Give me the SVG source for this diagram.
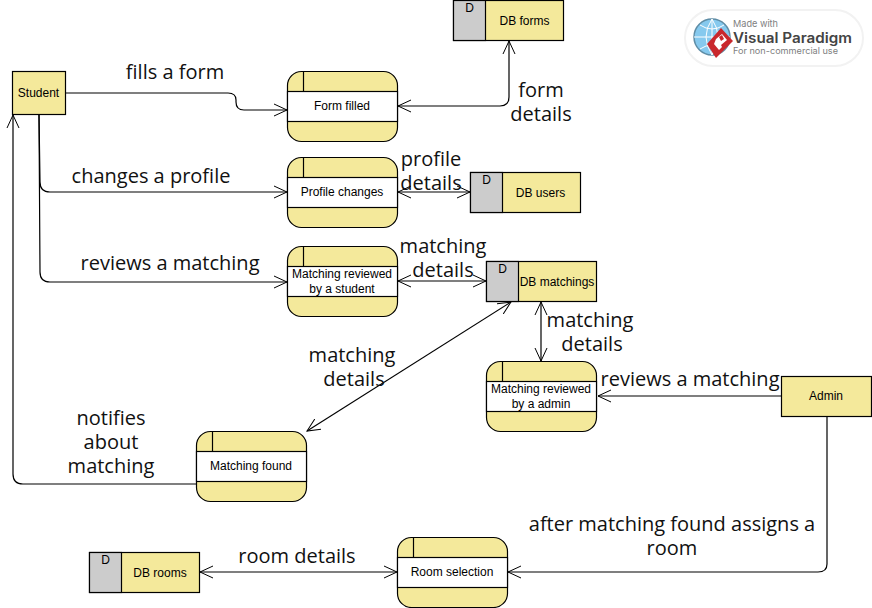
<svg xmlns="http://www.w3.org/2000/svg" width="872" height="608" viewBox="0 0 872 608">
<defs>
<style>
.n{fill:#f4e99b;stroke:#000;stroke-width:1.2}
.g{fill:#ccc;stroke:#000;stroke-width:1.2}
.w{fill:#fff;stroke:#000;stroke-width:1.2}
.l{fill:none;stroke:#000;stroke-width:1.2}
.c{fill:none;stroke:#000;stroke-width:1.2;stroke-linejoin:round}
.t{font-family:"Liberation Sans",Arial,sans-serif;font-size:12px;fill:#000;text-anchor:middle}
.b{font-family:"Open Sans","Noto Sans",sans-serif;font-size:20px;fill:#111;text-anchor:middle}
</style>
<marker id="a" viewBox="0 0 14 14" refX="13" refY="7" markerWidth="14" markerHeight="14" markerUnits="userSpaceOnUse" orient="auto-start-reverse"><path d="M0 1 L13 7 L0 13" fill="none" stroke="#000" stroke-width="1"/></marker>
</defs>
<rect width="872" height="608" fill="#fff"/>

<g id="watermark">
<rect x="685" y="10" width="178" height="56" rx="28" fill="#fff" stroke="#f2f2f2" stroke-width="2"/>
<circle cx="712" cy="37" r="18" fill="#86c9ee" stroke="#5f8da6" stroke-width="1.500"/>
<path d="M694 37H730M712 19V55M700 25Q712 33 724 25M700 49Q712 41 724 49M712 19Q700 37 712 55M712 19Q724 37 712 55" fill="none" stroke="#fff" stroke-width="1"/>
<path d="M721 28L733 41L716 58L707 44Z" fill="#c9282d"/>
<path d="M716 39L722 34L727 40L721 45L722 47L719 50L714 44Z" fill="#fff"/>
<path d="M719 37L722 35L724 39L721 41Z" fill="#c9282d"/>
<text x="733" y="27" font-family="Inter,'Open Sans',sans-serif" font-size="9.500" fill="#808080" textLength="45" lengthAdjust="spacingAndGlyphs">Made with</text>
<text x="733" y="43" font-family="Inter,'Open Sans',sans-serif" font-size="14" font-weight="600" fill="#444" textLength="119" lengthAdjust="spacingAndGlyphs">Visual Paradigm</text>
<text x="733" y="54" font-family="Inter,'Open Sans',sans-serif" font-size="9" fill="#808080" textLength="105" lengthAdjust="spacingAndGlyphs">For non-commercial use</text>
</g>

<g id="connectors">
<path class="c" marker-end="url(#a)" d="M66 93H228Q236 93 236 100V102Q236 110 244 110H287"/>
<path class="c" marker-start="url(#a)" marker-end="url(#a)" d="M398 106H500Q509 106 509 97V41"/>
<path class="c" marker-end="url(#a)" d="M39 115L40 182Q40 192 50 192H287"/>
<path class="c" marker-start="url(#a)" marker-end="url(#a)" d="M398 192H470"/>
<path class="c" marker-end="url(#a)" d="M39 115L40 272Q40 282 50 282H287"/>
<path class="c" marker-start="url(#a)" marker-end="url(#a)" d="M398 281H486"/>
<path class="c" marker-start="url(#a)" marker-end="url(#a)" d="M541 302V361"/>
<path class="c" marker-start="url(#a)" marker-end="url(#a)" d="M511 302L307 431"/>
<path class="c" marker-end="url(#a)" d="M781 396H598"/>
<path class="c" marker-end="url(#a)" d="M196 484H23Q13 484 13 474V115"/>
<path class="c" marker-start="url(#a)" marker-end="url(#a)" d="M200 572H397"/>
<path class="c" marker-end="url(#a)" d="M827 416V564Q827 572 818 572H508"/>
</g>

<g id="student"><rect class="n" x="12.500" y="71.500" width="53" height="43"/><text class="t" x="38.500" y="97">Student</text></g>
<g id="admin"><rect class="n" x="781.500" y="376.500" width="90" height="40"/><text class="t" x="826" y="400">Admin</text></g>

<g id="p-form-filled" transform="translate(287.500 71.500)"><rect class="n" width="110" height="70" rx="14"/><rect class="w" x="0" y="20" width="110" height="30"/><path class="l" d="M16 0V20"/><text class="t" x="54.500" y="38.500">Form filled</text></g>
<g id="p-profile-changes" transform="translate(287.500 157.500)"><rect class="n" width="110" height="70" rx="14"/><rect class="w" x="0" y="20" width="110" height="30"/><path class="l" d="M16 0V20"/><text class="t" x="54.500" y="38.500">Profile changes</text></g>
<g id="p-reviewed-student" transform="translate(287.500 246.500)"><rect class="n" width="110" height="70" rx="14"/><rect class="w" x="0" y="20" width="110" height="30"/><path class="l" d="M16 0V20"/><text class="t" x="54.500" y="31.500">Matching reviewed</text><text class="t" x="54.500" y="46.500">by a student</text></g>
<g id="p-reviewed-admin" transform="translate(486.500 361.500)"><rect class="n" width="110" height="70" rx="14"/><rect class="w" x="0" y="20" width="110" height="30"/><path class="l" d="M16 0V20"/><text class="t" x="54.500" y="31.500">Matching reviewed</text><text class="t" x="54.500" y="46.500">by a admin</text></g>
<g id="p-matching-found" transform="translate(196.500 431.500)"><rect class="n" width="110" height="70" rx="14"/><rect class="w" x="0" y="20" width="110" height="30"/><path class="l" d="M16 0V20"/><text class="t" x="54.500" y="38.500">Matching found</text></g>
<g id="p-room-selection" transform="translate(397.500 537.500)"><rect class="n" width="110" height="70" rx="14"/><rect class="w" x="0" y="20" width="110" height="30"/><path class="l" d="M16 0V20"/><text class="t" x="54.500" y="38.500">Room selection</text></g>

<g id="db-forms" transform="translate(453.500 0.500)"><rect class="n" width="110" height="40"/><rect class="g" width="32" height="40"/><text class="t" x="16" y="11">D</text><text class="t" x="71" y="24">DB forms</text></g>
<g id="db-users" transform="translate(470.500 172.500)"><rect class="n" width="110" height="40"/><rect class="g" width="32" height="40"/><text class="t" x="16" y="11">D</text><text class="t" x="70" y="24">DB users</text></g>
<g id="db-matchings" transform="translate(486.500 261.500)"><rect class="n" width="110" height="40"/><rect class="g" width="32" height="40"/><text class="t" x="16" y="11">D</text><text class="t" x="70.500" y="24">DB matchings</text></g>
<g id="db-rooms" transform="translate(89.500 552.500)"><rect class="n" width="110" height="40"/><rect class="g" width="32" height="40"/><text class="t" x="16" y="11">D</text><text class="t" x="70.500" y="24">DB rooms</text></g>

<g id="labels">
<text class="b" x="175" y="79">fills a form</text>
<text class="b" x="151" y="183">changes a profile</text>
<text class="b" x="170" y="270">reviews a matching</text>
<text class="b" x="541" y="97">form</text><text class="b" x="541" y="121">details</text>
<text class="b" x="431" y="166">profile</text><text class="b" x="431" y="190">details</text>
<text class="b" x="443" y="253">matching</text><text class="b" x="443" y="277">details</text>
<text class="b" x="590" y="327">matching</text><text class="b" x="592" y="351">details</text>
<text class="b" x="352" y="362">matching</text><text class="b" x="354" y="386">details</text>
<text class="b" x="690" y="386">reviews a matching</text>
<text class="b" x="111" y="425">notifies</text><text class="b" x="111" y="449">about</text><text class="b" x="111" y="473">matching</text>
<text class="b" x="297" y="563">room details</text>
<text class="b" x="672" y="531">after matching found assigns a</text><text class="b" x="672" y="555">room</text>
</g>
</svg>
